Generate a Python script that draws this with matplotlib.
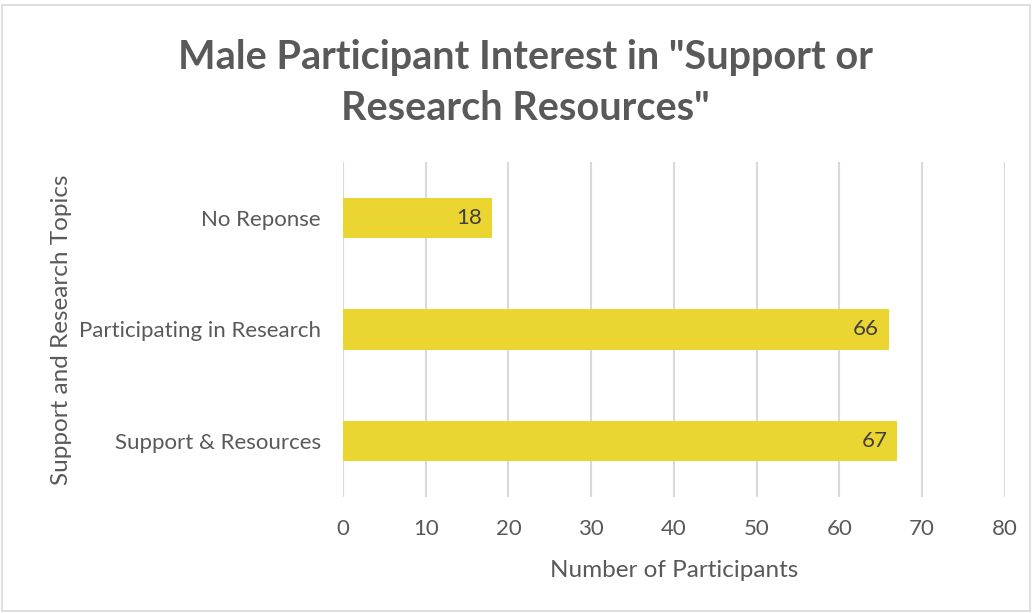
import matplotlib.pyplot as plt
from matplotlib.patches import Rectangle

topics = ['Support & Resources', 'Participating in Research', 'No Reponse']
counts = [67, 66, 18]
xticks = [0, 10, 20, 30, 40, 50, 60, 70, 80]

plt.rcParams['font.family'] = ['Lato', 'DejaVu Sans']

fig = plt.figure(figsize=(10.34, 6.13), dpi=100)
ax = fig.add_axes([0.3317, 0.189, 0.640, 0.547])

bars = ax.barh(range(len(topics)), counts, height=0.36, color='#EBD531', zorder=3)
for b, v in zip(bars, counts):
    ax.text(b.get_width() - 1.2, b.get_y() + b.get_height() / 2, str(v),
            ha='right', va='center', fontsize=16, color='#404040', zorder=4)

ax.set_xlim(0, 80)
ax.set_ylim(-0.5, 2.5)
ax.set_xticks(xticks)
ax.set_yticks(range(len(topics)))
ax.set_yticklabels(topics)
ax.tick_params(axis='both', length=0, labelsize=16, labelcolor='#595959')
ax.tick_params(axis='x', pad=16)
ax.tick_params(axis='y', pad=16)
ax.grid(axis='x', color='#D9D9D9', linewidth=1.5, zorder=0)
for s in ax.spines.values():
    s.set_visible(False)

ax.set_xlabel('Number of Participants', fontsize=17.5, color='#595959', labelpad=15)
ax.set_ylabel('Support and Research Topics', fontsize=17.5, color='#595959', labelpad=5)

fig.text(0.508, 0.865, 'Male Participant Interest in "Support or\nResearch Resources"',
         ha='center', va='center', fontsize=28.5, fontweight='bold', color='#595959',
         linespacing=1.45)

fig.patches.append(Rectangle((0.002, 0.004), 0.994, 0.988, transform=fig.transFigure,
                             fill=False, edgecolor='#D9D9D9', linewidth=1.2))

plt.savefig('out.png', dpi=100)
